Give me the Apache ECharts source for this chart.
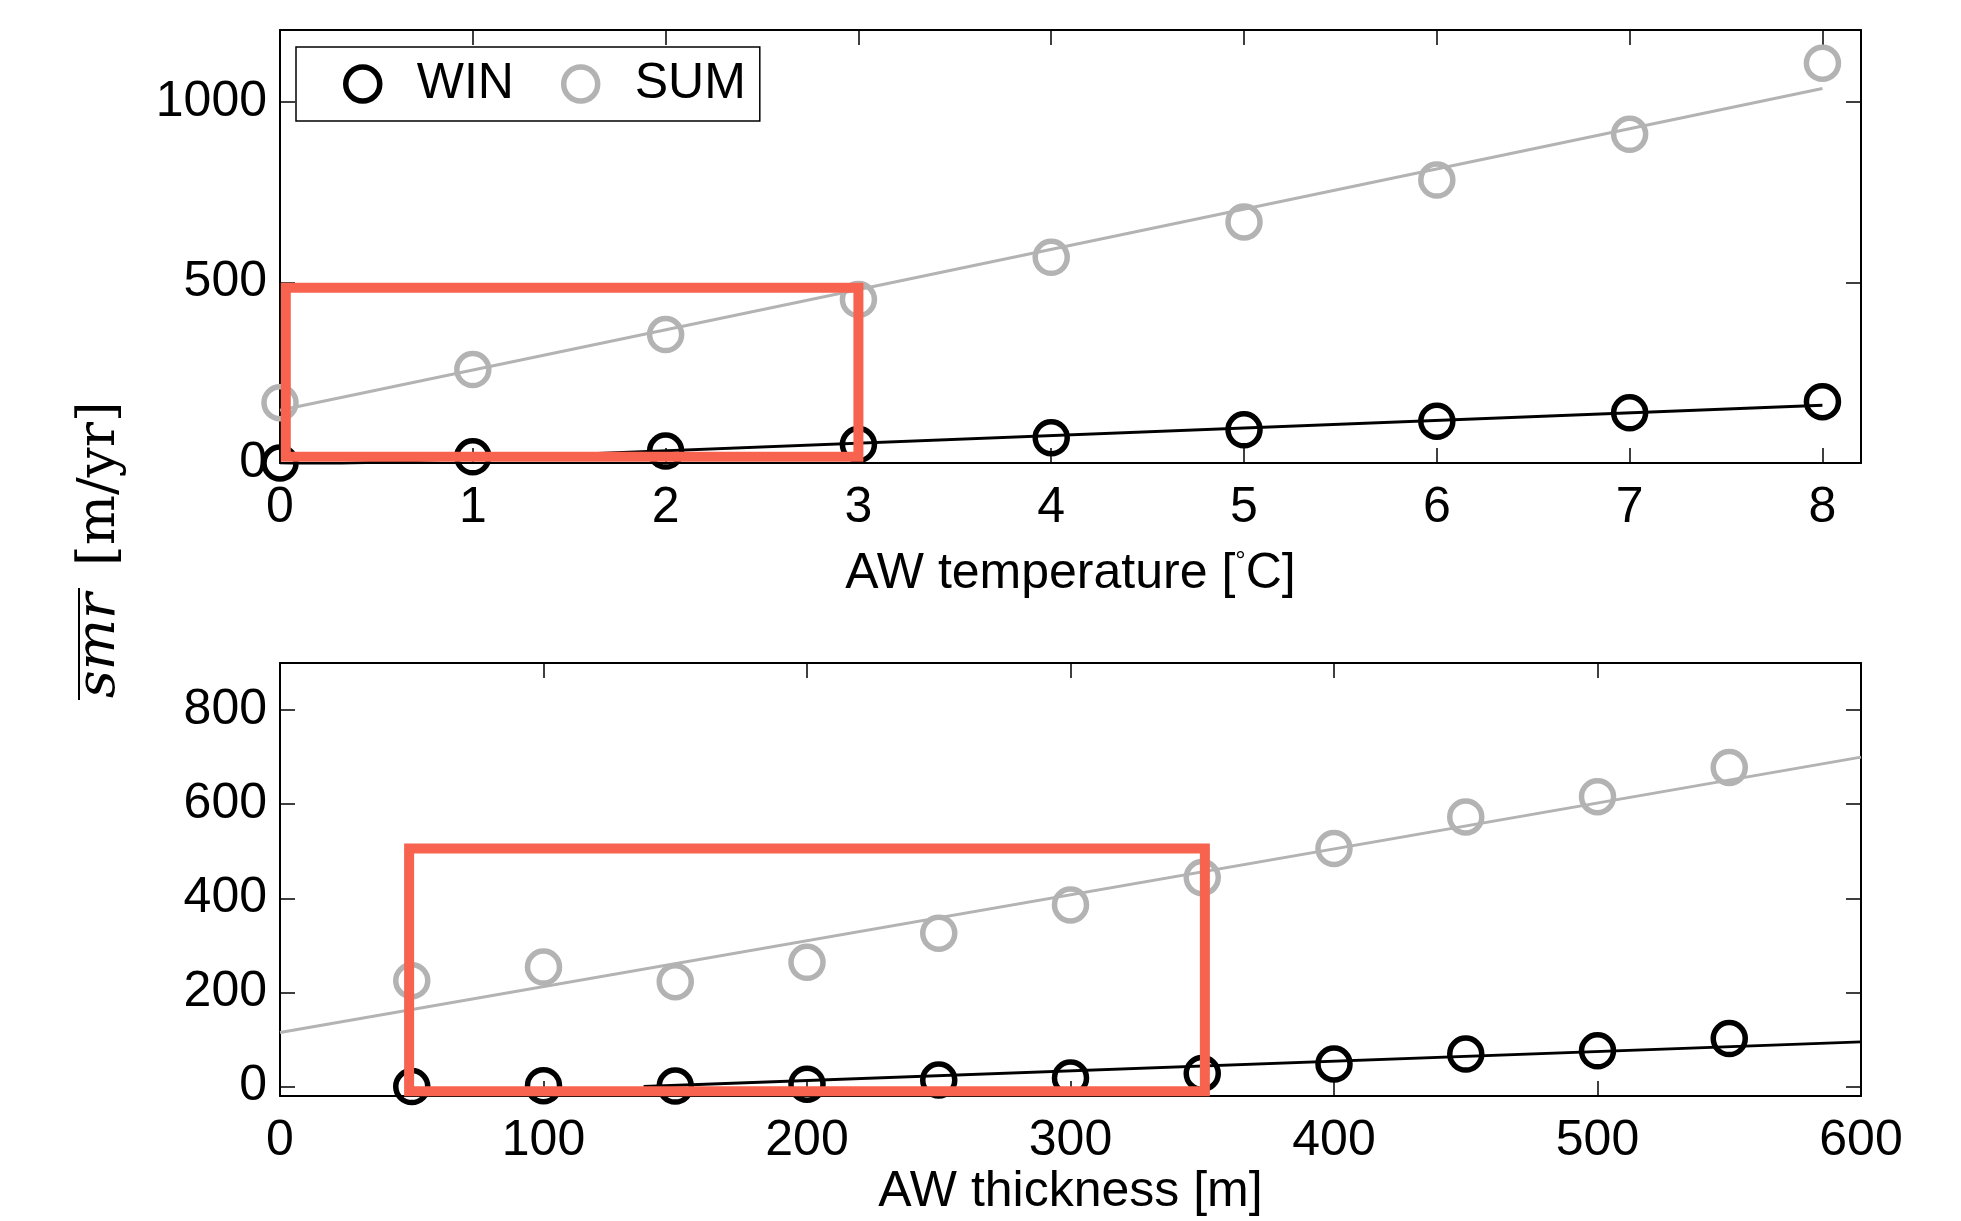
<!DOCTYPE html>
<html><head><meta charset="utf-8">
<script src="https://cdn.jsdelivr.net/npm/echarts@6/dist/echarts.min.js"></script>
<style>html,body{margin:0;padding:0;background:#fff}#c{width:1961px;height:1221px}</style>
</head><body><div id="c"></div>
<script>
// ---------- data ----------
const tempX = [0, 1, 2, 3, 4, 5, 6, 7, 8];
const tempWin = [0, 17, 33, 51, 70, 92, 116, 139, 170];
const tempSum = [167, 259, 356, 453, 570, 668, 784, 911, 1108];
const tempWinFit = [[0, -8], [8, 160]];
const tempSumFit = [[0, 146], [8, 1038]];
const tempBox = [[1.5, 17], [3, 17], [3, 486], [0.03, 486], [0.03, 17], [1.5, 17]];
const tempTicksX = [0, 1, 2, 3, 4, 5, 6, 7, 8];
const tempTicksY = [0, 500, 1000];

const thickX = [50, 100, 150, 200, 250, 300, 350, 400, 450, 500, 550];
const thickWin = [0, 2, 1, 5, 14, 18, 28, 48, 69, 76, 102];
const thickSum = [225, 254, 223, 264, 326, 386, 444, 506, 573, 616, 678];
const thickWinFit = [[138, 0], [600, 95]];
const thickSumFit = [[0, 115], [600, 700]];
const thickBox = [[200, -10], [351, -10], [351, 506], [49, 506], [49, -10], [200, -10]];
const thickTicksX = [0, 100, 200, 300, 400, 500, 600];
const thickTicksY = [0, 200, 400, 600, 800];

// ---------- styling ----------
const FONT = 'Liberation Sans';
const FS = 50;
const GRAY = '#b3b3b3';
const RED = '#f8634f';

function pairs(xs, ys) { return xs.map((x, i) => [x, ys[i]]); }
const plain = v => String(v);

function xAxes(grid, min, max, ticks, name, gap) {
  const base = {
    type: 'value', gridIndex: grid, min: min, max: max,
    splitLine: { show: false },
    axisLine: { show: true, onZero: false, lineStyle: { color: '#000', width: 2 } },
    axisTick: { show: true, inside: true, length: 15, customValues: ticks, lineStyle: { color: '#000', width: 1.5 } }
  };
  return [
    Object.assign({}, base, {
      position: 'bottom',
      axisLabel: { show: true, customValues: ticks, formatter: plain, color: '#000', fontSize: FS, fontFamily: FONT, margin: 20 },
      name: name, nameLocation: 'middle', nameGap: gap,
      nameTextStyle: { color: '#000', fontSize: FS, fontFamily: FONT,
        rich: { d: { fontSize: 26, fontFamily: FONT, color: '#000', verticalAlign: 'top', padding: [0, 0, 22, 0] } } }
    }),
    Object.assign({}, base, { position: 'top', axisLabel: { show: false } })
  ];
}
function yAxes(grid, min, max, ticks) {
  const base = {
    type: 'value', gridIndex: grid, min: min, max: max,
    splitLine: { show: false },
    axisLine: { show: true, onZero: false, lineStyle: { color: '#000', width: 2 } },
    axisTick: { show: true, inside: true, length: 15, customValues: ticks, lineStyle: { color: '#000', width: 1.5 } }
  };
  return [
    Object.assign({}, base, {
      position: 'left',
      axisLabel: { show: true, customValues: ticks, formatter: plain, color: '#000', fontSize: FS, fontFamily: FONT, margin: 13 }
    }),
    Object.assign({}, base, { position: 'right', axisLabel: { show: false } })
  ];
}

function scatter(name, xi, yi, data, color) {
  return {
    type: 'scatter', name: name, xAxisIndex: xi, yAxisIndex: yi, data: data,
    symbol: 'circle', symbolSize: 32, clip: false, z: 3,
    itemStyle: { color: 'rgba(0,0,0,0)', borderColor: color, borderWidth: 5.5, opacity: 1 },
    emphasis: { disabled: true }
  };
}
function line(xi, yi, data, color, width, z) {
  return {
    type: 'line', xAxisIndex: xi, yAxisIndex: yi, data: data,
    symbol: 'none', showSymbol: false, clip: true, z: z, silent: true,
    lineStyle: { color: color, width: width, join: 'miter', opacity: 1 },
    emphasis: { disabled: true }
  };
}

const option = {
  backgroundColor: '#fff',
  animation: false,
  grid: [
    { left: 280, top: 30, width: 1581, height: 433 },
    { left: 280, top: 663, width: 1581, height: 433 }
  ],
  xAxis: [].concat(
    xAxes(0, 0, 8.2, tempTicksX, 'AW temperature [{d|°}C]', 86),
    xAxes(1, 0, 600, thickTicksX, 'AW thickness [m]', 70)
  ),
  yAxis: [].concat(
    yAxes(0, 0, 1200, tempTicksY),
    yAxes(1, -20, 900, thickTicksY)
  ),
  legend: {
    data: ['WIN', 'SUM'],
    left: 296, top: 47,
    orient: 'horizontal',
    backgroundColor: '#fff',
    borderColor: '#000', borderWidth: 1.5, borderRadius: 0,
    padding: [12, 14, 12, 47],
    itemGap: 47, itemWidth: 34, itemHeight: 34,
    itemStyle: { borderWidth: 5.5, opacity: 1 },
    textStyle: { color: '#000', fontSize: FS, fontFamily: FONT, padding: [0, 0, 0, 32] },
    selectedMode: false
  },
  series: [
    line(0, 0, tempSumFit, GRAY, 3, 2),
    line(0, 0, tempWinFit, '#000', 3, 2),
    scatter('WIN', 0, 0, pairs(tempX, tempWin), '#000'),
    scatter('SUM', 0, 0, pairs(tempX, tempSum), GRAY),
    line(0, 0, tempBox, RED, 10, 5),
    line(2, 2, thickSumFit, GRAY, 3, 2),
    line(2, 2, thickWinFit, '#000', 3, 2),
    scatter('WIN', 2, 2, pairs(thickX, thickWin), '#000'),
    scatter('SUM', 2, 2, pairs(thickX, thickSum), GRAY),
    line(2, 2, thickBox, RED, 10, 5)
  ],
  graphic: [{
    type: 'group', x: 100, y: 550, rotation: Math.PI / 2,
    children: [
      { type: 'text', x: -148, y: 0,
        style: { text: 'smr', font: 'italic 54px "DejaVu Serif"', fill: '#000', align: 'left', verticalAlign: 'middle' } },
      { type: 'line', shape: { x1: -150, y1: -21, x2: -38, y2: -21 }, style: { stroke: '#000', lineWidth: 2 } },
      { type: 'text', x: -16, y: 0,
        style: { text: '[m/yr]', font: '53px "DejaVu Serif"', fill: '#000', align: 'left', verticalAlign: 'middle' } }
    ]
  }]
};

const chart = echarts.init(document.getElementById('c'), null, { renderer: 'canvas' });
chart.setOption(option);
</script>
</body></html>
